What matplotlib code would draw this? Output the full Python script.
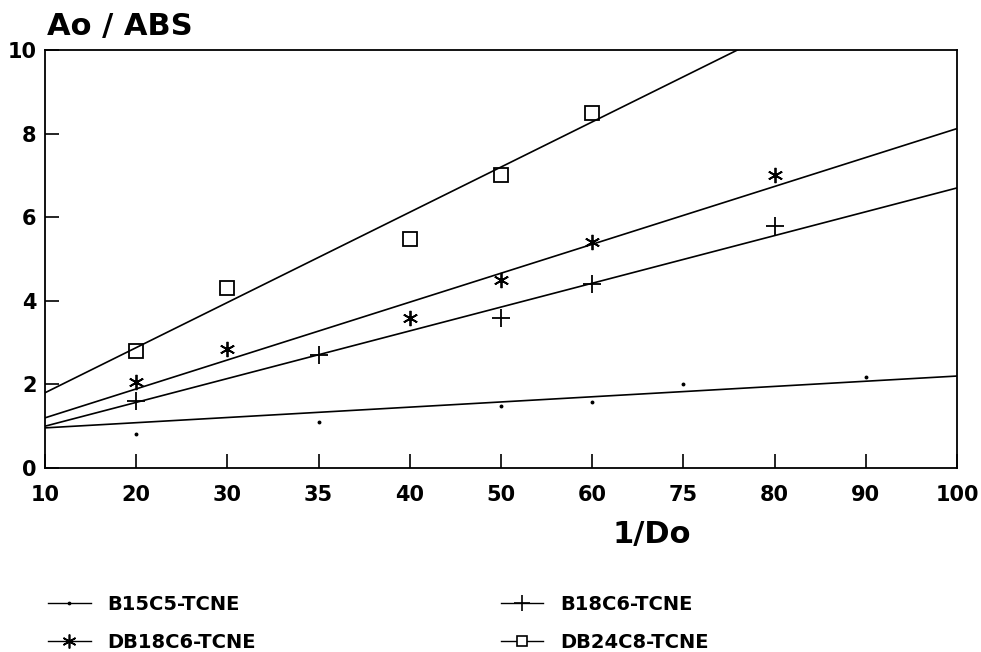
import numpy as np
import matplotlib.pyplot as plt

# x axis: evenly spaced positions with these labels
x_labels = ['10', '20', '30', '35', '40', '50', '60', '75', '80', '90', '100']

series_names = ['B15C5-TCNE', 'B18C6-TCNE', 'DB18C6-TCNE', 'DB24C8-TCNE']

# measured points (x label -> Ao/ABS)
b15c5_x = ['20', '35', '50', '60', '75', '90']
b15c5_y = [0.82, 1.1, 1.48, 1.57, 2.0, 2.18]

b18c6_x = ['20', '35', '50', '60', '80']
b18c6_y = [1.6, 2.7, 3.6, 4.4, 5.78]

db18c6_x = ['20', '30', '40', '50', '60', '80']
db18c6_y = [2.05, 2.85, 3.6, 4.5, 5.4, 7.0]

db24c8_x = ['20', '30', '40', '50', '60']
db24c8_y = [2.8, 4.3, 5.48, 7.0, 8.5]

# fitted lines, value at x label '10' and at '100'
fit_start = [0.96, 1.0, 1.2, 1.8]
fit_end = [2.2, 6.7, 8.12, 12.6]

plt.rcParams['font.family'] = 'DejaVu Sans'
plt.rcParams['font.weight'] = 'bold'

fig = plt.figure(figsize=(9.81, 6.52), dpi=100)
ax = fig.add_axes([45 / 981, 1 - 468 / 652, (957 - 45) / 981, (468 - 50) / 652])

pos = {lab: i for i, lab in enumerate(x_labels)}
xs = [b15c5_x, b18c6_x, db18c6_x, db24c8_x]
ys = [b15c5_y, b18c6_y, db18c6_y, db24c8_y]
markers = ['.', '+', (6, 2, 0), 's']
msizes = [3, 13, 11, 10]

handles = []
for i in range(4):
    px = [pos[v] for v in xs[i]]
    ax.plot(px, ys[i], linestyle='none', marker=markers[i], markersize=msizes[i],
            color='black', markerfacecolor='white' if markers[i] == 's' else 'black',
            markeredgewidth=1.3)
    ax.plot([0, len(x_labels) - 1], [fit_start[i], fit_end[i]], color='black', lw=1.2)
    h, = ax.plot([], [], color='black', lw=1.0, marker=markers[i],
                 markersize=[3, 11, 10, 7][i],
                 markerfacecolor='white' if markers[i] == 's' else 'black',
                 markeredgewidth=1.2, label=series_names[i])
    handles.append(h)

ax.set_xlim(0, len(x_labels) - 1)
ax.set_ylim(0, 10)
ax.set_xticks(range(len(x_labels)))
ax.set_xticklabels(x_labels)
ax.set_yticks([0, 2, 4, 6, 8, 10])
ax.tick_params(direction='in', length=10, width=1.2, labelsize=15)
ax.tick_params(axis='x', pad=12)
ax.tick_params(axis='y', pad=6)
for s in ax.spines.values():
    s.set_linewidth(1.3)

fig.text(47 / 981, 1 - 35 / 652, 'Ao / ABS', fontsize=22, fontweight='bold', va='baseline')
fig.text(612 / 981, 1 - 543 / 652, '1/Do', fontsize=22, fontweight='bold', va='baseline')

order = [handles[0], handles[2], handles[1], handles[3]]
fig.legend(handles=order, ncol=2, loc='upper left', bbox_to_anchor=(40 / 981, 1 - 587 / 652),
           frameon=False, fontsize=14, handlelength=2.2, handletextpad=0.85,
           columnspacing=12.6, labelspacing=1.0, borderaxespad=0)

fig.savefig('out.png', dpi=100)
